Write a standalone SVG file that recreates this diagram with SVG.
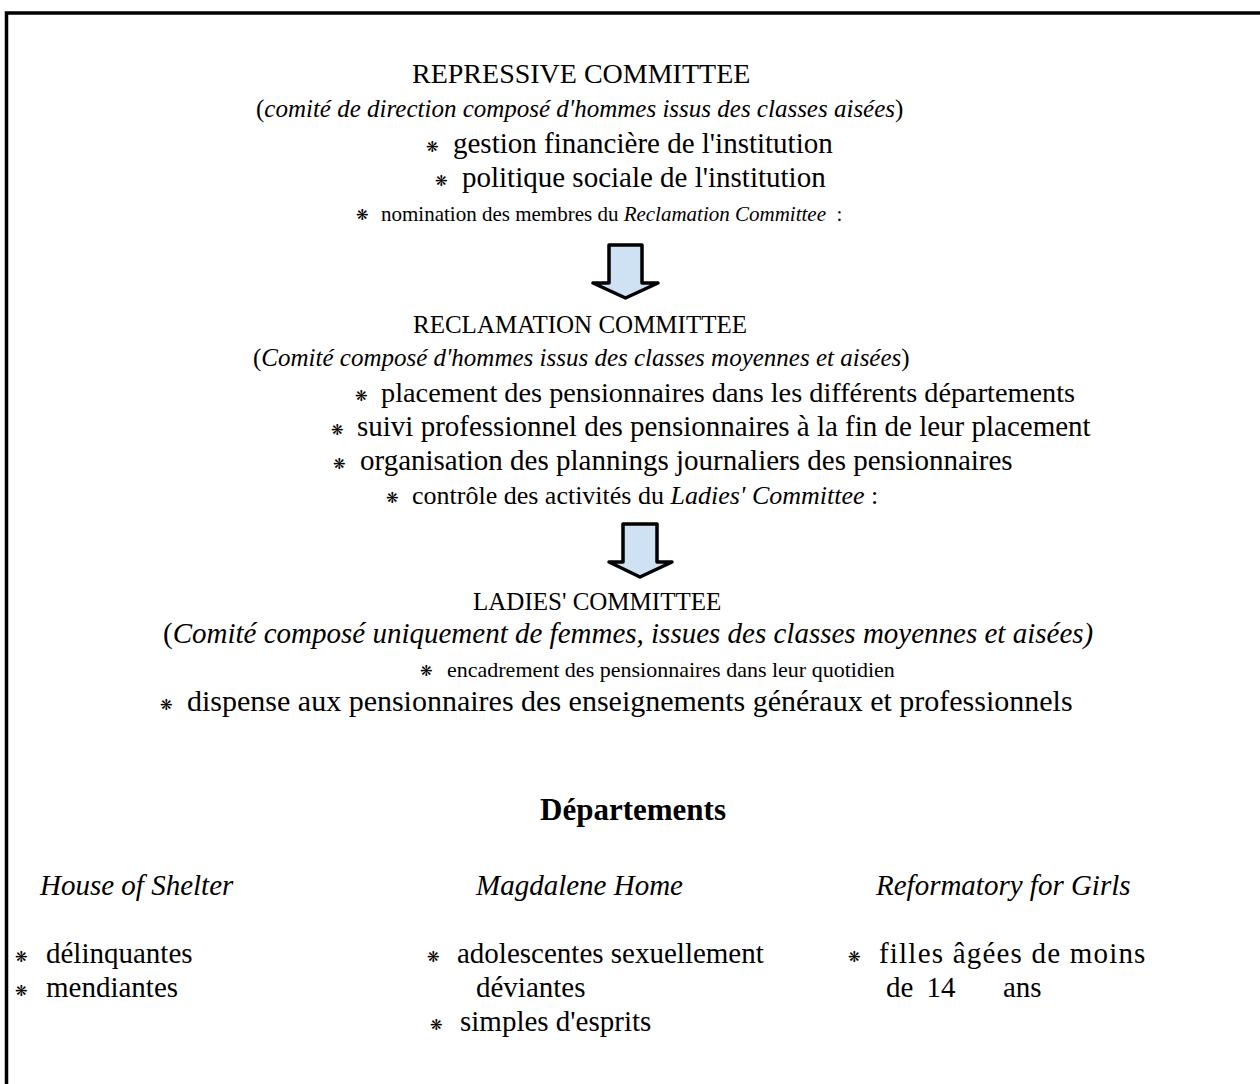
<svg xmlns="http://www.w3.org/2000/svg" width="1260" height="1084" viewBox="0 0 1260 1084">
<style>
text{font-family:"Liberation Serif","Times New Roman",serif;font-size:29px;fill:#000}
.i{font-style:italic}
.b{font-weight:bold}
.s{font-family:"DejaVu Sans",sans-serif;font-size:15px}
.arrow{fill:#cfe2f3;stroke:#000;stroke-width:3.5;stroke-linejoin:round}
.frame{fill:none;stroke:#000;stroke-width:3.5}
</style>
<rect width="1260" height="1084" fill="#fff"/>
<path class="frame" d="M6.5,1084 V13 H1260"/>

<g id="repressive">
<text x="412" y="83" style="font-size:28px">REPRESSIVE COMMITTEE</text>
<text x="256" y="117" style="font-size:25px">(<tspan class="i">comité de direction composé d'hommes issus des classes aisées</tspan>)</text>
<text class="s" x="426" y="152">❋</text><text x="453" y="153">gestion financière de l'institution</text>
<text class="s" x="435" y="186">❋</text><text x="462" y="187">politique sociale de l'institution</text>
<text class="s" x="356" y="220">❋</text><text x="381" y="221" style="font-size:21px" xml:space="preserve">nomination des membres du <tspan class="i">Reclamation Committee</tspan>  :</text>
</g>

<g id="reclamation">
<text x="413" y="333" style="font-size:25px">RECLAMATION COMMITTEE</text>
<text x="253" y="366" style="font-size:25px">(<tspan class="i">Comité composé d'hommes issus des classes moyennes et aisées</tspan>)</text>
<text class="s" x="355" y="401">❋</text><text x="381" y="402" style="font-size:28.3px">placement des pensionnaires dans les différents départements</text>
<text class="s" x="331" y="435">❋</text><text x="357" y="436">suivi professionnel des pensionnaires à la fin de leur placement</text>
<text class="s" x="333" y="469">❋</text><text x="360" y="470">organisation des plannings journaliers des pensionnaires</text>
<text class="s" x="386" y="503">❋</text><text x="412" y="504" style="font-size:26px">contrôle des activités du <tspan class="i">Ladies' Committee</tspan> :</text>
</g>

<g id="ladies">
<text x="473" y="610" style="font-size:25px">LADIES' COMMITTEE</text>
<text x="163" y="643">(<tspan class="i">Comité composé uniquement de femmes, issues des classes moyennes et aisées)</tspan></text>
<text class="s" x="420" y="676">❋</text><text x="447" y="677" style="font-size:22px">encadrement des pensionnaires dans leur quotidien</text>
<text class="s" x="160" y="710">❋</text><text x="187" y="711" style="font-size:30px">dispense aux pensionnaires des enseignements généraux et professionnels</text>
</g>

<g id="departements">
<text class="b" x="540" y="820" style="font-size:31px">Départements</text>
</g>

<g id="house-of-shelter">
<text class="i" x="40" y="895">House of Shelter</text>
<text class="s" x="15" y="962">❋</text><text x="46" y="963">délinquantes</text>
<text class="s" x="15" y="996">❋</text><text x="46" y="997">mendiantes</text>
</g>

<g id="magdalene-home">
<text class="i" x="476" y="895">Magdalene Home</text>
<text class="s" x="427" y="962">❋</text><text x="457" y="963">adolescentes sexuellement</text>
<text x="476" y="997">déviantes</text>
<text class="s" x="430" y="1030">❋</text><text x="460" y="1031">simples d'esprits</text>
</g>

<g id="reformatory">
<text class="i" x="876" y="895">Reformatory for Girls</text>
<text class="s" x="848" y="962">❋</text><text x="879" y="963" style="letter-spacing:1.2px">filles âgées de moins</text>
<text x="886" y="997" xml:space="preserve" style="word-spacing:6px">de 14  <tspan x="1003">ans</tspan></text>
</g>

<g id="connectors">
<path class="arrow" d="M609,245 H642 V283 H658 L625.5,298 L593,283 H609 Z"/>
<path class="arrow" d="M623,524 H657 V562 H672 L640,577 L609,562 H623 Z"/>
</g>
</svg>
